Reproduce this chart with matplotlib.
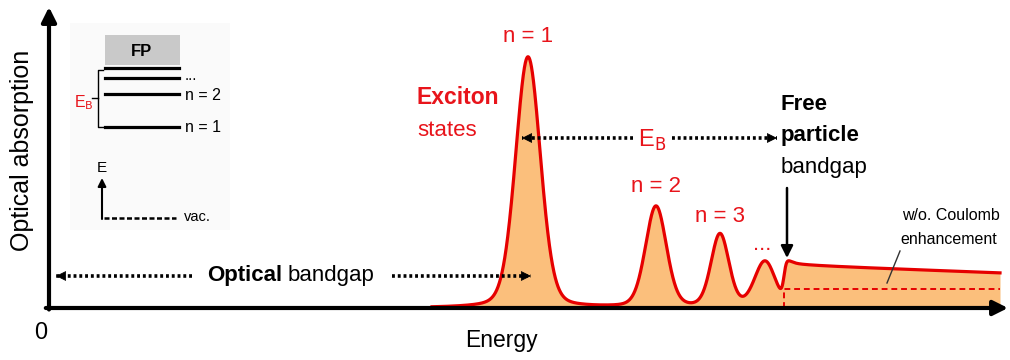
import matplotlib
matplotlib.use("Agg")
import matplotlib.pyplot as plt
from matplotlib.patches import Rectangle
import numpy as np

plt.rcParams['font.family'] = ['Liberation Sans', 'DejaVu Sans']

# exciton peaks (energy offset from origin, absorption)
peak_labels = ['n = 1', 'n = 2', 'n = 3', '...']
peak_pos = [481, 609, 673, 718]
peak_height = [251, 101, 73, 46]
peak_width = [12.5, 10.5, 9.0, 10.5]

gap_pos = 737            # free particle bandgap
energy_start = 385
energy_end = 953
continuum_levels = [43, 35]   # with Coulomb enhancement, start/end
free_level = 19               # w/o. Coulomb enhancement

RED = '#e60000'
TXT_RED = '#e8141b'
ORANGE = '#fbbf7c'

OX, OY = 47, 308


def px(x, y):
    # picture pixel -> data coordinates
    return x - OX, OY - y


def pvoigt(e, c, h, s, eta=0.2):
    g = s * 1.1774
    d = e - c
    return h * ((1 - eta) * np.exp(-d**2 / (2 * s**2)) + eta / (1 + (d / g)**2))


energy = np.linspace(energy_start, energy_end, 3000)
absorb = np.zeros_like(energy)
for c, h, s in zip(peak_pos, peak_height, peak_width):
    absorb += pvoigt(energy, c, h, s)
level = np.interp(energy, [gap_pos, energy_end], continuum_levels)
absorb += level / (1 + np.exp(-(energy - gap_pos) / 1.3))

fig = plt.figure(figsize=(10.1, 3.6), dpi=100)
ax = fig.add_axes([0, 0, 1, 1])
ax.set_xlim(-OX, 1010 - OX)
ax.set_ylim(OY - 360, OY)
ax.axis('off')

ax.fill_between(energy, 0, absorb, color=ORANGE, lw=0, zorder=1)
ax.plot(energy, absorb, color=RED, lw=2.3, zorder=3)
ax.plot([gap_pos, gap_pos, energy_end], [0, free_level, free_level],
        color=RED, lw=1.4, ls=(0, (3, 2)), zorder=2)

# axes arrows
ax.annotate('', xy=(1008 - OX, 0), xytext=(-1.2, 0),
            arrowprops=dict(arrowstyle='-|>', lw=3, color='k',
                            mutation_scale=22, shrinkA=0, shrinkB=0), zorder=5)
ax.annotate('', xy=(2, OY - 7), xytext=(2, -1.5),
            arrowprops=dict(arrowstyle='-|>', lw=3, color='k',
                            mutation_scale=22, shrinkA=0, shrinkB=0), zorder=5)

ax.text(*px(22, 150), 'Optical absorption', rotation=90, ha='center',
        va='center', fontsize=18)
ax.text(*px(41, 333), '0', ha='center', va='center', fontsize=17)
ax.text(*px(501, 341), 'Energy', ha='center', va='center', fontsize=16.5)


def dotted_arrow(x0, x1, y, head=True):
    a, b = px(x0, y), px(x1, y)
    ax.plot([a[0], b[0]], [a[1], b[1]], color='k', lw=2.6,
            ls=(0, (0.8, 0.8)), zorder=6)
    if head:
        d = np.sign(b[0] - a[0])
        ax.annotate('', xy=b, xytext=(b[0] - d * 4, b[1]),
                    arrowprops=dict(arrowstyle='-|>', lw=0.5, color='k',
                                    mutation_scale=16, shrinkA=0, shrinkB=0),
                    zorder=6)


# optical bandgap
dotted_arrow(192, 56, 276)
dotted_arrow(392, 531, 276)
ax.text(*px(245, 276), 'Optical', ha='center', va='center', fontsize=16,
        fontweight='bold')
ax.text(*px(331, 276), 'bandgap', ha='center', va='center', fontsize=16)

# binding energy
dotted_arrow(633, 522, 138)
dotted_arrow(672, 777, 138)
ax.text(*px(652, 140), r'E$_\mathrm{B}$', ha='center', va='center',
        fontsize=17, color=TXT_RED)

# exciton labels
ax.text(*px(417, 98), 'Exciton', ha='left', va='center', fontsize=16.5,
        fontweight='bold', color=TXT_RED)
ax.text(*px(417, 130), 'states', ha='left', va='center', fontsize=16,
        color=TXT_RED)
label_xy = [(528, 37), (656, 186), (720, 216), (762, 245)]
for lab, (x, y) in zip(peak_labels, label_xy):
    ax.text(*px(x, y), lab, ha='center', va='center', fontsize=16,
            color=TXT_RED)

# free particle bandgap
ax.text(*px(781, 104), 'Free', ha='left', va='center', fontsize=16,
        fontweight='bold')
ax.text(*px(781, 136), 'particle', ha='left', va='center', fontsize=16,
        fontweight='bold')
ax.text(*px(781, 167), 'bandgap', ha='left', va='center', fontsize=16)
ax.annotate('', xy=px(787, 258), xytext=px(787, 188),
            arrowprops=dict(arrowstyle='-|>', lw=1.8, color='k',
                            mutation_scale=18, shrinkA=0, shrinkB=0))

ax.text(*px(951, 216), 'w/o. Coulomb', ha='center', va='center', fontsize=11.5)
ax.text(*px(949, 240), 'enhancement', ha='center', va='center', fontsize=11.5)
ax.plot(*zip(px(900, 251), px(887, 283)), color='#333333', lw=1.0, zorder=4)

# inset level diagram
ax.add_patch(Rectangle(px(70, 230), 160, 207, color='#fafafa', lw=0, zorder=0))
ax.add_patch(Rectangle(px(105, 65), 75, 30, color='#c9c9c9', lw=0, zorder=1))
ax.text(*px(142, 51), 'FP', ha='center', va='center', fontsize=12,
        fontweight='bold')
for y in [68, 78, 94, 127]:
    ax.plot(*zip(px(105, y), px(179, y)), color='k', lw=2.3)
ax.text(*px(185, 76), '...', ha='left', va='center', fontsize=11)
ax.text(*px(185, 95), 'n = 2', ha='left', va='center', fontsize=11.5)
ax.text(*px(185, 128), 'n = 1', ha='left', va='center', fontsize=11.5)
ax.plot(*zip(px(103, 70), px(98, 70), px(98, 127), px(103, 127)),
        color='k', lw=1.0)
ax.plot(*zip(px(92, 98), px(98, 98)), color='k', lw=1.0)
ax.text(*px(84, 103), r'E$_\mathrm{B}$', ha='center', va='center',
        fontsize=11.5, color=TXT_RED)
ax.annotate('', xy=px(102, 178), xytext=px(102, 219),
            arrowprops=dict(arrowstyle='-|>', lw=1.5, color='k',
                            mutation_scale=12, shrinkA=0, shrinkB=0))
ax.text(*px(102, 168), 'E', ha='center', va='center', fontsize=11)
ax.plot(*zip(px(104, 218), px(176, 218)), color='k', lw=1.8, ls=(0, (2, 1)))
ax.text(*px(184, 217), 'vac.', ha='left', va='center', fontsize=10.5)

fig.savefig('out.png', dpi=100)
